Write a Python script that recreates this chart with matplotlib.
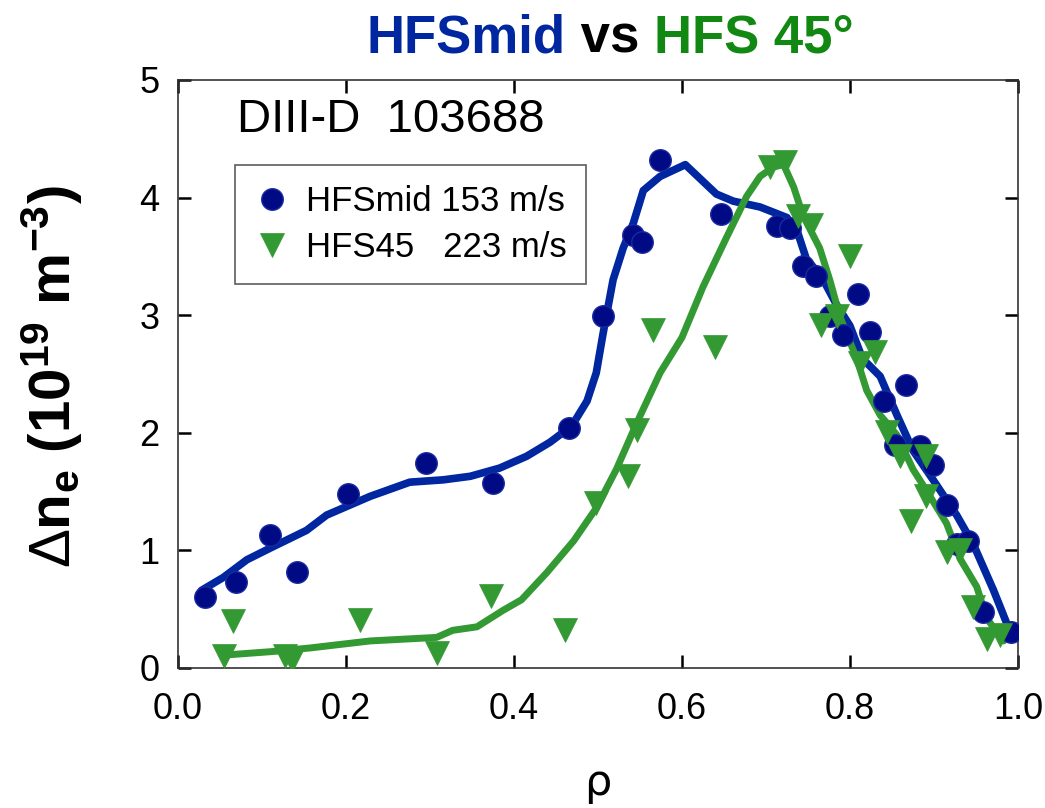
import matplotlib
matplotlib.use("Agg")
import matplotlib.pyplot as plt

# ---------------- data ----------------
mid_rho = [0.032, 0.069, 0.110, 0.142, 0.203, 0.295, 0.375, 0.465, 0.506, 0.542, 0.553,
           0.574, 0.647, 0.713, 0.729, 0.744, 0.760, 0.776, 0.792, 0.810, 0.824, 0.840,
           0.854, 0.867, 0.883, 0.899, 0.915, 0.927, 0.941, 0.959, 0.992]
mid_dn = [0.60, 0.73, 1.13, 0.82, 1.48, 1.74, 1.57, 2.04, 2.99, 3.68, 3.62,
          4.32, 3.86, 3.76, 3.74, 3.42, 3.33, 2.99, 2.83, 3.18, 2.86, 2.27,
          1.90, 2.41, 1.89, 1.73, 1.39, 1.05, 1.08, 0.48, 0.31]

h45_rho = [0.055, 0.066, 0.128, 0.136, 0.217, 0.308, 0.373, 0.461, 0.498, 0.536, 0.546,
           0.566, 0.639, 0.705, 0.723, 0.738, 0.754, 0.766, 0.784, 0.800, 0.812, 0.830,
           0.844, 0.860, 0.873, 0.891, 0.891, 0.915, 0.931, 0.946, 0.963, 0.979]
h45_dn = [0.10, 0.40, 0.10, 0.07, 0.41, 0.13, 0.61, 0.32, 1.40, 1.63, 2.02,
          2.87, 2.73, 4.26, 4.30, 3.84, 3.77, 2.92, 2.99, 3.50, 2.59, 2.69,
          2.01, 1.80, 1.25, 1.46, 1.80, 0.99, 1.00, 0.52, 0.25, 0.28]

mid_fit_rho = [0.028, 0.054, 0.082, 0.110, 0.153, 0.177, 0.229, 0.276, 0.316, 0.348,
               0.383, 0.415, 0.443, 0.469, 0.487, 0.498, 0.506, 0.518, 0.530, 0.542,
               0.554, 0.574, 0.604, 0.641, 0.661, 0.693, 0.725, 0.737, 0.748, 0.766,
               0.784, 0.800, 0.815, 0.836, 0.856, 0.875, 0.899, 0.927, 0.947, 0.971, 0.990]
mid_fit_dn = [0.66, 0.77, 0.92, 1.02, 1.17, 1.30, 1.46, 1.58, 1.60, 1.63,
              1.70, 1.80, 1.92, 2.06, 2.27, 2.51, 2.84, 3.30, 3.57, 3.78,
              4.06, 4.18, 4.28, 4.03, 3.97, 3.92, 3.83, 3.72, 3.48, 3.33,
              3.09, 2.91, 2.63, 2.48, 2.15, 1.85, 1.60, 1.30, 1.05, 0.66, 0.32]

h45_fit_rho = [0.056, 0.113, 0.157, 0.229, 0.308, 0.327, 0.356, 0.387, 0.409, 0.439,
               0.471, 0.498, 0.522, 0.546, 0.574, 0.600, 0.625, 0.653, 0.677, 0.693,
               0.709, 0.721, 0.733, 0.744, 0.764, 0.776, 0.788, 0.808, 0.820, 0.836,
               0.856, 0.875, 0.891, 0.915, 0.931, 0.951, 0.963, 0.983]
h45_fit_dn = [0.11, 0.14, 0.17, 0.23, 0.26, 0.32, 0.35, 0.49, 0.58, 0.81,
              1.08, 1.36, 1.69, 2.08, 2.51, 2.81, 3.24, 3.66, 4.01, 4.18,
              4.26, 4.28, 4.09, 3.85, 3.57, 3.30, 2.99, 2.63, 2.36, 2.15,
              1.98, 1.69, 1.51, 1.23, 0.93, 0.69, 0.42, 0.23]

x_ticks = [0.0, 0.2, 0.4, 0.6, 0.8, 1.0]
y_ticks = [0, 1, 2, 3, 4, 5]
legend_labels = ["HFSmid 153 m/s", "HFS45   223 m/s"]

# ---------------- style ----------------
BLUE_LINE = "#0026a0"
NAVY = "#000a85"
GREEN = "#339933"
TITLE_BLUE = "#0026a0"
TITLE_GREEN = "#118811"

plt.rcParams["font.family"] = ["Liberation Sans", "DejaVu Sans"]
plt.rcParams["mathtext.fontset"] = "custom"
plt.rcParams["mathtext.rm"] = "Liberation Sans"
plt.rcParams["mathtext.bf"] = "Liberation Sans:bold"
plt.rcParams["mathtext.it"] = "Liberation Sans:italic"

fig = plt.figure(figsize=(10.45, 8.08), dpi=100)
ax = fig.add_axes([0.1703, 0.1733, 0.8038, 0.7277])

ax.plot(mid_fit_rho, mid_fit_dn, color=BLUE_LINE, lw=5.5, solid_capstyle="round",
        solid_joinstyle="round", zorder=3)
ax.plot(h45_fit_rho, h45_fit_dn, color=GREEN, lw=5, solid_capstyle="round",
        solid_joinstyle="round", zorder=3)
ax.plot(mid_rho, mid_dn, "o", ms=15.5, mfc=NAVY, mec="#1a2aa0", mew=1, zorder=4,
        label=legend_labels[0])
ax.plot(h45_rho, h45_dn, "v", ms=17, mfc=GREEN, mec=GREEN, mew=0.5, zorder=4,
        label=legend_labels[1])

ax.set_xlim(0, 1.0)
ax.set_ylim(0, 5)
ax.set_xticks(x_ticks)
ax.set_yticks(y_ticks)
ax.set_xticklabels([f"{v:.1f}" for v in x_ticks], fontsize=26)
ax.set_yticklabels([str(v) for v in y_ticks], fontsize=26)
ax.tick_params(axis="x", direction="in", length=9.5, width=1.8, top=True, pad=17)
ax.tick_params(axis="y", direction="in", length=9.5, width=1.8, right=True, pad=13.5)
for s in ax.spines.values():
    s.set_linewidth(1.2)
    s.set_color("#333333")

ax.set_xlabel("ρ", fontsize=31, fontfamily=["DejaVu Sans"])
ax.xaxis.set_label_coords(0.50, -0.160)
ax.set_ylabel(r"$\Delta\mathbf{n_e}$ (10$^{\mathbf{19}}$ m$^{\mathbf{-3}}$)",
              fontsize=42, fontweight="bold")
ax.yaxis.set_label_coords(-0.111, 0.495)

leg = ax.legend(loc="upper left", bbox_to_anchor=(0.068, 0.855), fontsize=25,
                frameon=True, fancybox=False, handletextpad=0.5, borderpad=0.57,
                labelspacing=0.37, handlelength=0.97, borderaxespad=0)
leg.get_frame().set_edgecolor("#333333")
leg.get_frame().set_linewidth(1.2)

ax.text(0.07, 0.932, "DIII-D  103688", transform=ax.transAxes, fontsize=34,
        va="center", ha="left")

# title with coloured parts
parts = [("HFSmid", TITLE_BLUE), (" vs ", "black"), ("HFS 45°", TITLE_GREEN)]
fig.canvas.draw()
renderer = fig.canvas.get_renderer()
texts = []
for s, c in parts:
    t = fig.text(0, 0.9356, s, color=c, fontsize=38, fontweight="bold", va="baseline",
                 ha="left")
    texts.append(t)
widths = [t.get_window_extent(renderer).width / fig.bbox.width for t in texts]
total = sum(widths)
x0 = 0.584 - total / 2
for t, w in zip(texts, widths):
    t.set_x(x0)
    x0 += w

fig.savefig("out.png", dpi=100)
